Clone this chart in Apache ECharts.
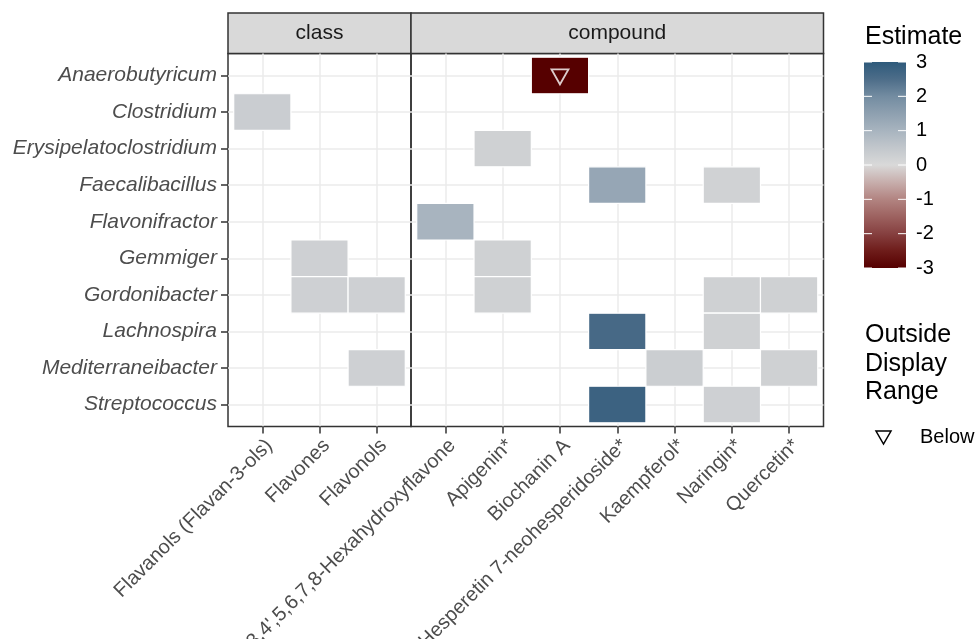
<!DOCTYPE html>
<html>
<head>
<meta charset="utf-8">
<title>Estimate heatmap by genus</title>
<script src="https://cdn.jsdelivr.net/npm/echarts@6/dist/echarts.min.js"></script>
<style>
  html, body { margin: 0; padding: 0; background: #ffffff; }
  #chart { width: 976px; height: 639px; }
</style>
</head>
<body>
<div id="chart"></div>
<script>
// Rows (genera), top to bottom
const genera = [
  'Anaerobutyricum', 'Clostridium', 'Erysipelatoclostridium', 'Faecalibacillus',
  'Flavonifractor', 'Gemmiger', 'Gordonibacter', 'Lachnospira',
  'Mediterraneibacter', 'Streptococcus'
];

// Columns of the two facets
const classLevels = ['Flavanols (Flavan-3-ols)', 'Flavones', 'Flavonols'];
const compoundLevels = [
  "3,4',5,6,7,8-Hexahydroxyflavone", 'Apigenin*', 'Biochanin A',
  'Hesperetin 7-neohesperidoside*', 'Kaempferol*', 'Naringin*', 'Quercetin*'
];

// Estimates: [genus, level, estimate]
const classEstimates = [
  ['Clostridium', 'Flavanols (Flavan-3-ols)', 0.32],
  ['Gemmiger', 'Flavones', 0.24],
  ['Gordonibacter', 'Flavones', 0.24],
  ['Gordonibacter', 'Flavonols', 0.24],
  ['Mediterraneibacter', 'Flavonols', 0.24]
];
const compoundEstimates = [
  ['Anaerobutyricum', 'Biochanin A', -3.8],
  ['Erysipelatoclostridium', 'Apigenin*', 0.22],
  ['Faecalibacillus', 'Hesperetin 7-neohesperidoside*', 1.35],
  ['Faecalibacillus', 'Naringin*', 0.2],
  ['Flavonifractor', "3,4',5,6,7,8-Hexahydroxyflavone", 1.0],
  ['Gemmiger', 'Apigenin*', 0.22],
  ['Gordonibacter', 'Apigenin*', 0.22],
  ['Gordonibacter', 'Naringin*', 0.22],
  ['Gordonibacter', 'Quercetin*', 0.22],
  ['Lachnospira', 'Hesperetin 7-neohesperidoside*', 2.6],
  ['Lachnospira', 'Naringin*', 0.22],
  ['Mediterraneibacter', 'Kaempferol*', 0.3],
  ['Mediterraneibacter', 'Quercetin*', 0.22],
  ['Streptococcus', 'Hesperetin 7-neohesperidoside*', 2.78],
  ['Streptococcus', 'Naringin*', 0.25]
];

// Colour scale for the estimate, from -3 to 3 in steps of 0.5
const scaleMin = -3;
const scaleMax = 3;
const scaleColors = [
  '#560000', '#6e1c1a', '#864040', '#9d6260', '#b28481', '#c7aeac',
  '#d9d9d9',
  '#c2c7cc', '#a8b4bf', '#8ea0b0', '#738ca1', '#4d6d89', '#2e5a7b'
];
const legendBreaks = [3, 2, 1, 0, -1, -2, -3];

const FONT = "'Liberation Sans', Arial, Helvetica, sans-serif";
const AXIS_GREY = '#4d4d4d';
const BORDER = '#333333';

// Panel geometry
const panelTop = 53.5;
const panelHeight = 373;
const classLeft = 228;
const classWidth = 183;
const compoundLeft = 411;
const compoundWidth = 412.5;
const stripTop = 13;
const stripHeight = panelTop - stripTop;

function toCells(rows, levels) {
  return rows.map(function (r) {
    const v = r[2];
    const clamped = Math.max(scaleMin, Math.min(scaleMax, v));
    return [levels.indexOf(r[1]), genera.indexOf(r[0]), v, clamped];
  });
}
const classCells = toCells(classEstimates, classLevels);
const compoundCells = toCells(compoundEstimates, compoundLevels);
const belowCells = compoundCells
  .filter(function (c) { return c[2] < scaleMin; })
  .map(function (c) { return [c[0], c[1]]; });

const rowIdx = genera.map(function (_, i) { return i; });
const classIdx = classLevels.map(function (_, i) { return i; });
const compoundIdx = compoundLevels.map(function (_, i) { return i; });

function xAxisFor(gridIndex, levels, idx) {
  return {
    type: 'value',
    gridIndex: gridIndex,
    position: 'bottom',
    min: -0.6,
    max: levels.length - 0.4,
    axisLine: { show: false, onZero: false },
    axisTick: {
      show: true, customValues: idx, length: 7,
      lineStyle: { color: BORDER, width: 1.5 }
    },
    axisLabel: {
      show: true, customValues: idx,
      formatter: function (v) { return levels[Math.round(v)]; },
      rotate: 45, align: 'right', verticalAlign: 'top', margin: 9,
      fontSize: 20, color: AXIS_GREY, fontFamily: FONT
    },
    splitLine: { show: true, lineStyle: { color: '#ebebeb', width: 1.5 } }
  };
}

function yAxisFor(gridIndex, showLabels) {
  return {
    type: 'value',
    gridIndex: gridIndex,
    position: 'left',
    inverse: true,
    min: -0.6,
    max: genera.length - 0.4,
    axisLine: { show: false, onZero: false },
    axisTick: {
      show: showLabels, customValues: rowIdx, length: 7,
      lineStyle: { color: BORDER, width: 1.5 }
    },
    axisLabel: {
      show: showLabels, customValues: rowIdx,
      formatter: function (v) { return genera[Math.round(v)]; },
      margin: 11, fontSize: 21, fontStyle: 'italic',
      color: AXIS_GREY, fontFamily: FONT
    },
    splitLine: { show: true, lineStyle: { color: '#ebebeb', width: 1.5 } }
  };
}

function renderTile(params, api) {
  const c = api.coord([api.value(0), api.value(1)]);
  const s = api.size([1, 1]);
  const w = Math.abs(s[0]);
  const h = Math.abs(s[1]);
  return {
    type: 'rect',
    shape: { x: c[0] - w / 2, y: c[1] - h / 2, width: w, height: h },
    style: { fill: api.visual('color'), stroke: '#ffffff', lineWidth: 1.2 }
  };
}

// Colour bar and legend pieces
const barX = 864, barY = 62, barW = 42, barH = 206;
function barPos(v) { return barY + (scaleMax - v) / (scaleMax - scaleMin) * barH; }

const gradientStops = scaleColors.slice().reverse().map(function (col, i) {
  return { offset: i / (scaleColors.length - 1), color: col };
});

const legendGraphics = [
  {
    type: 'text', x: 865, y: 37,
    style: { text: 'Estimate', fontSize: 25, fill: '#000', fontFamily: FONT,
             verticalAlign: 'middle' }
  },
  {
    type: 'rect',
    shape: { x: barX, y: barY, width: barW, height: barH },
    style: {
      fill: new echarts.graphic.LinearGradient(0, 0, 0, 1, gradientStops)
    }
  }
];
legendBreaks.forEach(function (v) {
  const y = barPos(v);
  legendGraphics.push(
    { type: 'line', shape: { x1: barX, y1: y, x2: barX + 8, y2: y },
      style: { stroke: '#ffffff', lineWidth: 1 } },
    { type: 'line', shape: { x1: barX + barW - 8, y1: y, x2: barX + barW, y2: y },
      style: { stroke: '#ffffff', lineWidth: 1 } },
    { type: 'text', x: 916, y: y,
      style: { text: String(v), fontSize: 20, fill: '#000', fontFamily: FONT,
               verticalAlign: 'middle', align: 'left' } }
  );
});
legendGraphics.push(
  {
    type: 'text', x: 865, y: 321,
    style: { text: 'Outside\nDisplay\nRange', fontSize: 25, lineHeight: 28.5,
             fill: '#000', fontFamily: FONT, verticalAlign: 'top' }
  },
  {
    type: 'polygon',
    shape: { points: [[876, 431], [891, 431], [883.5, 444]] },
    style: { fill: 'none', stroke: '#000', lineWidth: 1.5 }
  },
  {
    type: 'text', x: 920, y: 437,
    style: { text: 'Below', fontSize: 20, fill: '#000', fontFamily: FONT,
             verticalAlign: 'middle' }
  }
);

// Facet strips
const stripGraphics = [
  { type: 'rect', shape: { x: classLeft, y: stripTop, width: classWidth, height: stripHeight },
    style: { fill: '#d9d9d9', stroke: BORDER, lineWidth: 1.5 } },
  { type: 'rect', shape: { x: compoundLeft, y: stripTop, width: compoundWidth, height: stripHeight },
    style: { fill: '#d9d9d9', stroke: BORDER, lineWidth: 1.5 } },
  { type: 'text', x: classLeft + classWidth / 2, y: stripTop + stripHeight / 2,
    style: { text: 'class', fontSize: 21, fill: '#1a1a1a', fontFamily: FONT,
             align: 'center', verticalAlign: 'middle' } },
  { type: 'text', x: compoundLeft + compoundWidth / 2, y: stripTop + stripHeight / 2,
    style: { text: 'compound', fontSize: 21, fill: '#1a1a1a', fontFamily: FONT,
             align: 'center', verticalAlign: 'middle' } }
];

const chart = echarts.init(document.getElementById('chart'), null, { renderer: 'canvas' });

chart.setOption({
  backgroundColor: '#ffffff',
  animation: false,
  grid: [
    { left: classLeft, top: panelTop, width: classWidth, height: panelHeight,
      outerBoundsMode: 'none', containLabel: false,
      show: true, borderColor: BORDER, borderWidth: 1.5, backgroundColor: 'transparent' },
    { left: compoundLeft, top: panelTop, width: compoundWidth, height: panelHeight,
      outerBoundsMode: 'none', containLabel: false,
      show: true, borderColor: BORDER, borderWidth: 1.5, backgroundColor: 'transparent' }
  ],
  xAxis: [
    xAxisFor(0, classLevels, classIdx),
    xAxisFor(1, compoundLevels, compoundIdx)
  ],
  yAxis: [
    yAxisFor(0, true),
    yAxisFor(1, false)
  ],
  visualMap: {
    show: false,
    type: 'continuous',
    min: scaleMin,
    max: scaleMax,
    dimension: 3,
    seriesIndex: [0, 1],
    inRange: { color: scaleColors }
  },
  series: [
    {
      name: 'class', type: 'custom', xAxisIndex: 0, yAxisIndex: 0,
      renderItem: renderTile, encode: { x: 0, y: 1 }, data: classCells, clip: true
    },
    {
      name: 'compound', type: 'custom', xAxisIndex: 1, yAxisIndex: 1,
      renderItem: renderTile, encode: { x: 0, y: 1 }, data: compoundCells, clip: true
    },
    {
      name: 'Below', type: 'scatter', xAxisIndex: 1, yAxisIndex: 1,
      symbol: 'triangle', symbolRotate: 180, symbolSize: [17, 15], symbolOffset: [0, 1.5],
      itemStyle: { color: 'rgba(0,0,0,0)', borderColor: '#ffffff', borderWidth: 1.8 },
      data: belowCells, z: 5, silent: true
    }
  ],
  graphic: stripGraphics.concat(legendGraphics)
});
</script>
</body>
</html>
